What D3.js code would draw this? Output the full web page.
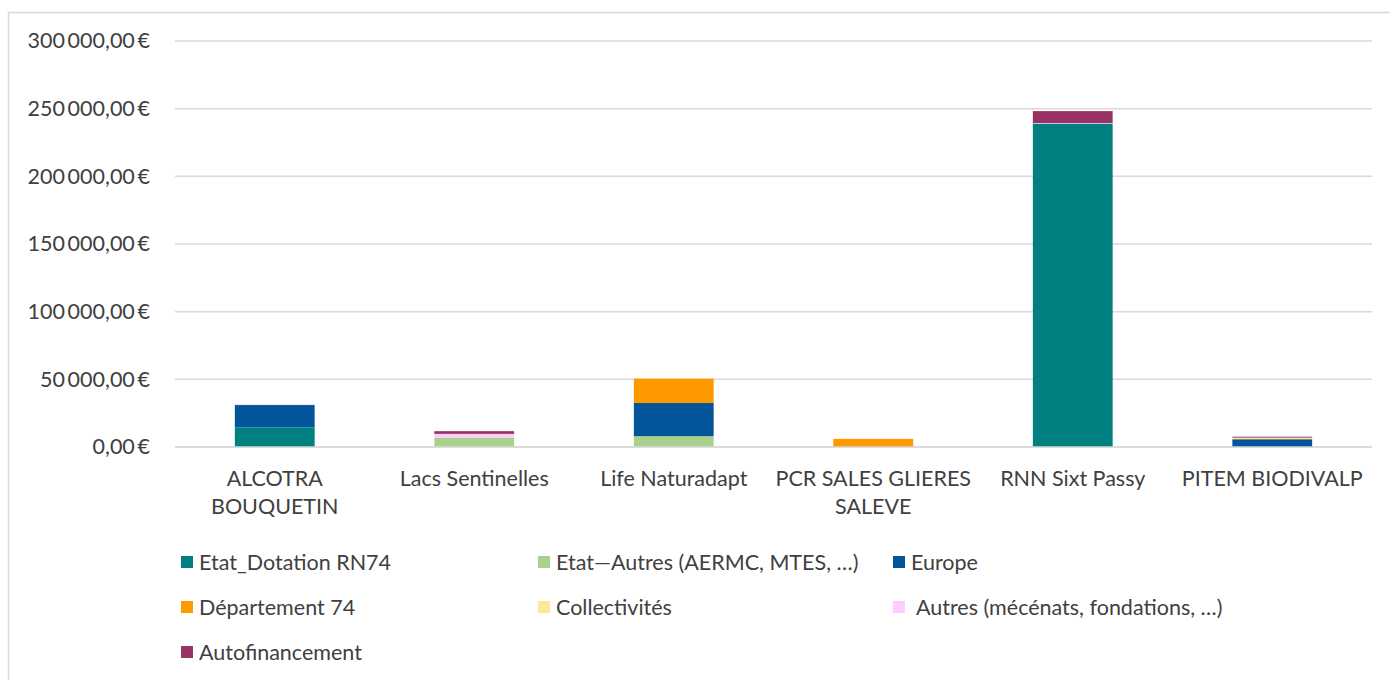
<!DOCTYPE html>
<html><head><meta charset="utf-8">
<script src="https://cdn.jsdelivr.net/npm/d3@7"></script>
<style>
body{margin:0;background:#fff;}
text{font-family:Lato,"Open Sans",sans-serif;fill:#404040;}
</style></head>
<body><svg id="c" width="1390" height="680"></svg>
<script>
const categories = ["ALCOTRA|BOUQUETIN","Lacs Sentinelles","Life Naturadapt","PCR SALES GLIERES|SALEVE","RNN Sixt Passy","PITEM BIODIVALP"];
const seriesNames = ["Etat_Dotation RN74","Etat\u2014Autres (AERMC, MTES, \u2026)","Europe","Département 74","Collectivités","Autres (mécénats, fondations, \u2026)","Autofinancement"];
const seriesColors = ["#008080","#A9D18E","#03559A","#FF9900","#FFE699","#FFCCFF","#993366"];
const etatDotation = [14500, 0, 0, 0, 239000, 0];
const etatAutres   = [0, 7000, 8000, 0, 0, 0];
const europe       = [16500, 0, 24500, 0, 0, 5700];
const departement  = [0, 0, 18000, 6000, 0, 300];
const collectivites= [0, 0, 0, 0, 0, 900];
const autres       = [500, 2700, 0, 0, 400, 0];
const autofinancement = [0, 2000, 0, 0, 8800, 700];
const yTicks = [0, 50000, 100000, 150000, 200000, 250000, 300000];

const seriesValues = [etatDotation, etatAutres, europe, departement, collectivites, autres, autofinancement];
const rows = categories.map((c,i)=>{const r={cat:c}; seriesNames.forEach((s,j)=>r[s]=seriesValues[j][i]); return r;});

const svg = d3.select("#c");
svg.append("rect").attr("x",8.5).attr("y",12.5).attr("width",1400).attr("height",700)
  .attr("fill","none").attr("stroke","#d9d9d9").attr("stroke-width",1.5);

const x = d3.scaleBand().domain(categories).range([175,1372]).paddingInner(0.6).paddingOuter(0.3);
const y = d3.scaleLinear().domain([0,300000]).range([447,41]);

const loc = d3.formatLocale({decimal:",", thousands:"\u2009", grouping:[3], currency:["","\u2009€"]});
const fmt = loc.format("$,.2f");

svg.append("g").selectAll("line").data(yTicks).join("line")
  .attr("x1",175).attr("x2",1372).attr("y1",d=>y(d)).attr("y2",d=>y(d))
  .attr("stroke","#d9d9d9").attr("stroke-width",1.5);

const yAxis = svg.append("g").attr("transform","translate(160,0)")
  .call(d3.axisLeft(y).tickValues(yTicks).tickFormat(fmt).tickSize(0).tickPadding(10));
yAxis.select(".domain").remove();
yAxis.selectAll("text").style("font-size","21.5px").style("font-family","Lato,sans-serif").attr("fill","#404040");

const stack = d3.stack().keys(seriesNames)(rows);
svg.append("g").selectAll("g").data(stack).join("g")
  .attr("fill",(d,i)=>seriesColors[i])
  .selectAll("rect").data(d=>d).join("rect")
  .attr("x",d=>x(d.data.cat)).attr("width",x.bandwidth())
  .attr("y",d=>y(d[1])).attr("height",d=>Math.max(0,y(d[0])-y(d[1])));

svg.append("line").attr("x1",175).attr("x2",1372).attr("y1",y(0)).attr("y2",y(0))
  .attr("stroke","#d9d9d9").attr("stroke-width",1.5);

const xAxis = svg.append("g").attr("transform",`translate(0,${y(0)})`)
  .call(d3.axisBottom(x).tickSize(0).tickFormat(""));
xAxis.select(".domain").remove();
xAxis.selectAll(".tick").each(function(d){
  const t = d3.select(this).append("text").attr("text-anchor","middle").style("font-size","21.5px").attr("fill","#404040");
  d.split("|").forEach((line,k)=>t.append("tspan").attr("x",0).attr("y",39+k*28).text(line));
});

const legX = [181,538,893], legY = [562,607,652];
const leg = svg.append("g").selectAll("g").data(seriesNames).join("g")
  .attr("transform",(d,i)=>`translate(${legX[i%3]},${legY[Math.floor(i/3)]})`);
leg.append("rect").attr("x",0).attr("y",-6).attr("width",12).attr("height",12).attr("fill",(d,i)=>seriesColors[i]);
leg.append("text").attr("x",(d,i)=>i===5?23:18).attr("y",7.5).style("font-size","21.5px").attr("fill","#404040").text(d=>d);
</script></body></html>
